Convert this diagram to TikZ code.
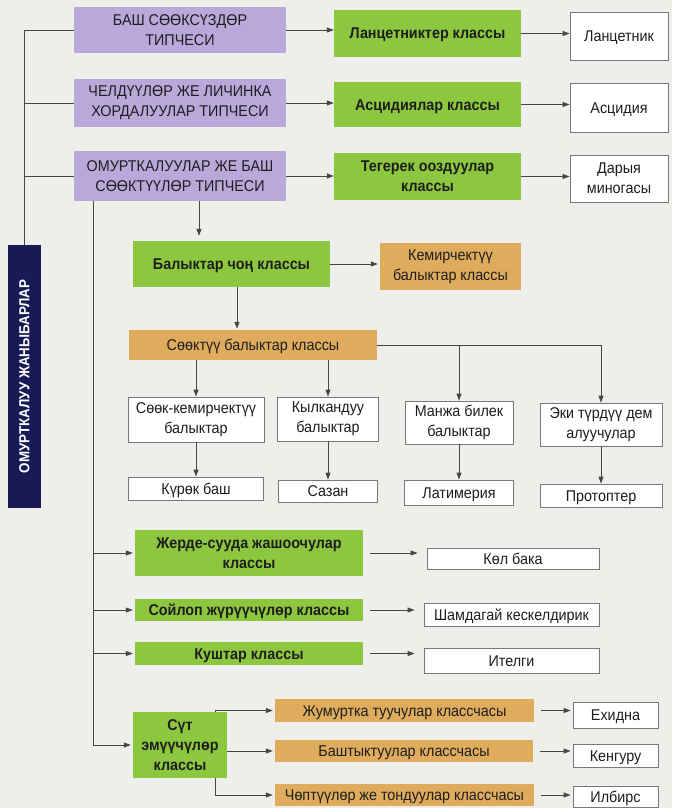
\documentclass[tikz,border=0pt]{standalone}
\usepackage{fontspec}
\setmainfont{Liberation Sans}[FakeStretch=0.92]
\usetikzlibrary{arrows.meta}
\definecolor{bgc}{RGB}{238,238,235}
\definecolor{purp}{RGB}{186,168,218}
\definecolor{grn}{RGB}{141,198,63}
\definecolor{orng}{RGB}{222,172,92}
\definecolor{navy}{RGB}{24,26,86}
\definecolor{bord}{RGB}{120,120,120}
\definecolor{lnc}{RGB}{70,70,70}
\definecolor{txt}{RGB}{30,30,30}
\begin{document}
\begin{tikzpicture}[x=1pt,y=-1pt,
  sz/.style 2 args={minimum width=#1pt, minimum height=#2pt},
  box/.style={inner sep=0.5pt, text=txt, font=\fontsize{15.6}{20}\selectfont},
  ml/.style={align=center},
  sl/.style={text height=12pt, text depth=1pt},
  pbox/.style={box, fill=purp},
  gbox/.style={box, fill=grn, font=\fontsize{15.6}{20}\selectfont\bfseries},
  obox/.style={box, fill=orng},
  wbox/.style={box, fill=white, draw=bord, line width=0.8pt},
  ln/.style={draw=lnc, line width=0.8pt},
  arr/.style={ln, -{Triangle[length=7pt,width=5pt]}}]
\fill[bgc] (0,0) rectangle (672,808);
\useasboundingbox (0,0) rectangle (672,808);

% top types
\node[pbox, ml, sz={212}{46}] (b1) at (180,30) {БАШ СӨӨКСҮЗДӨР\\ТИПЧЕСИ};
\node[pbox, ml, sz={212}{48}] (b2) at (180,103) {ЧЕЛДҮҮЛӨР ЖЕ ЛИЧИНКА\\ХОРДАЛУУЛАР ТИПЧЕСИ};
\node[pbox, ml, sz={212}{50}] (b3) at (180,176) {ОМУРТКАЛУУЛАР ЖЕ БАШ\\СӨӨКТҮҮЛӨР ТИПЧЕСИ};

\node[gbox, sl, sz={187}{47}] (g1) at (427.5,33.5) {Ланцетниктер классы};
\node[gbox, sl, sz={187}{45}] (g2) at (427.5,104.5) {Асцидиялар классы};
\node[gbox, ml, sz={187}{47}] (g3) at (427.5,176.5) {Тегерек ооздуулар\\классы};

\node[wbox, sl, sz={98}{48}] (w1) at (619,36) {Ланцетник};
\node[wbox, sl, sz={98}{49}] (w2) at (619,107.5) {Асцидия};
\node[wbox, ml, sz={98}{47}] (w3) at (619,178.5) {Дарыя\\миногасы};

\draw[arr] (b1.east) -- (b1.east -| g1.west);
\draw[arr] (b2.east) -- (b2.east -| g2.west);
\draw[arr] (b3.east) -- (b3.east -| g3.west);
\draw[arr] (g1.east) -- (g1.east -| w1.west);
\draw[arr] (g2.east) -- (g2.east -| w2.west);
\draw[arr] (g3.east) -- (g3.east -| w3.west);

% side label
\node[fill=navy, sz={33}{263}, inner sep=0pt] (dark) at (24.5,376.5)
  {\rotatebox{90}{\color{white}\fontsize{14.5}{16}\selectfont\bfseries ОМУРТКАЛУУ ЖАНЫБАРЛАР}};
\draw[ln] (b1.west) -| (dark.north);
\draw[ln] (b2.west) -- (b2.west -| dark.north);
\draw[ln] (b3.west) -- (b3.west -| dark.north);

% fish
\node[gbox, sl, sz={197}{46}] (fish) at (231.5,264) {Балыктар чоң классы};
\node[obox, ml, sz={141}{47}] (kem) at (450.5,266.5) {Кемирчектүү\\балыктар классы};
\node[obox, sl, sz={248}{30}] (bony) at (253,345) {Сөөктүү балыктар классы};
\draw[arr, shorten >=5pt] ([xshift=19pt]b3.south) -- ([xshift=19pt]b3.south |- fish.north);
\draw[arr, shorten >=2pt] (fish.east) -- (fish.east -| kem.west);
\draw[arr, shorten >=1pt] ([xshift=5.5pt]fish.south) -- ([xshift=5.5pt]fish.south |- bony.north);

\node[wbox, ml, sz={136}{45}] (c1) at (196,419.5) {Сөөк-кемирчектүү\\балыктар};
\node[wbox, ml, sz={101}{44}] (c2) at (328,419) {Кылкандуу\\балыктар};
\node[wbox, ml, sz={108}{43}] (c3) at (459,422.5) {Манжа билек\\балыктар};
\node[wbox, ml, sz={122}{43}] (c4) at (601,424.5) {Эки түрдүү дем\\алуучулар};

\node[wbox, sl, sz={135}{23}] (d1) at (196,488.5) {Күрөк баш};
\node[wbox, sl, sz={99}{22}] (d2) at (328,491) {Сазан};
\node[wbox, sl, sz={109}{25}] (d3) at (459,492.5) {Латимерия};
\node[wbox, sl, sz={122}{23}] (d4) at (601,495.5) {Протоптер};

\draw[arr] (bony.south -| c1.north) -- (c1.north);
\draw[arr] (bony.south -| c2.north) -- (c2.north);
\draw[arr] (bony.east) -| (c3.north);
\draw[arr] (bony.east) -| (c4.north);
\draw[arr] (c1.south) -- (c1.south |- d1.north);
\draw[arr] (c2.south) -- (c2.south |- d2.north);
\draw[arr] (c3.south) -- (c3.south |- d3.north);
\draw[arr] (c4.south) -- (c4.south |- d4.north);

% other classes
\node[gbox, ml, sz={228}{46}] (e1) at (249,553) {Жерде-сууда жашоочулар\\классы};
\node[gbox, sl, sz={228}{22}] (e2) at (249,610) {Сойлоп жүрүүчүлөр классы};
\node[gbox, sl, sz={228}{23}] (e3) at (249,653.5) {Куштар классы};
\node[gbox, ml, sz={94}{66}] (sut) at (180,745) {Сүт\\эмүүчүлөр\\классы};

\node[wbox, sl, sz={172}{21}] (f1) at (513,558.5) {Көл бака};
\node[wbox, sl, sz={175}{23}] (f2) at (511.5,614.5) {Шамдагай кескелдирик};
\node[wbox, sl, sz={175}{25}] (f3) at (511.5,660.5) {Ителги};

\draw[arr, shorten <=7pt, shorten >=9pt] (e1.east) -- (e1.east -| f1.west);
\draw[arr, shorten <=7pt, shorten >=9pt] (e2.east) -- (e2.east -| f2.west);
\draw[arr, shorten <=7pt, shorten >=9pt] (e3.east) -- (e3.east -| f3.west);

\coordinate (L2) at ([xshift=-87pt]b3.south);
\draw[arr, shorten >=2pt] (L2) |- (sut.west);
\draw[arr, shorten >=2pt] (L2 |- e1.west) -- (e1.west);
\draw[arr, shorten >=2pt] (L2 |- e2.west) -- (e2.west);
\draw[arr, shorten >=2pt] (L2 |- e3.west) -- (e3.west);

% mammals
\node[obox, sl, sz={259}{23}] (h1) at (404.5,710.5) {Жумуртка туучулар классчасы};
\node[obox, sl, sz={258}{22}] (h2) at (404,751) {Баштыктуулар классчасы};
\node[obox, sl, sz={259}{22}] (h3) at (404.5,795) {Чөптүүлөр же тондуулар классчасы};

\node[wbox, sl, sz={85}{26}] (k1) at (615.5,715) {Ехидна};
\node[wbox, sl, sz={85}{23}] (k2) at (615.5,755.5) {Кенгуру};
\node[wbox, sl, sz={85}{21}] (k3) at (615.5,797) {Илбирс};

\draw[arr, shorten >=2pt] ([xshift=35pt]sut.north) |- (h1.west);
\draw[arr, shorten >=2pt] (sut.east |- h2.west) -- (h2.west);
\draw[arr, shorten >=2pt] ([xshift=35pt]sut.south) |- (h3.west);
\draw[arr, shorten <=7pt, shorten >=2pt] (h1.east) -- (h1.east -| k1.west);
\draw[arr, shorten <=7pt, shorten >=2pt] (h2.east) -- (h2.east -| k2.west);
\draw[arr, shorten <=7pt, shorten >=2pt] (h3.east) -- (h3.east -| k3.west);
\end{tikzpicture}
\end{document}
